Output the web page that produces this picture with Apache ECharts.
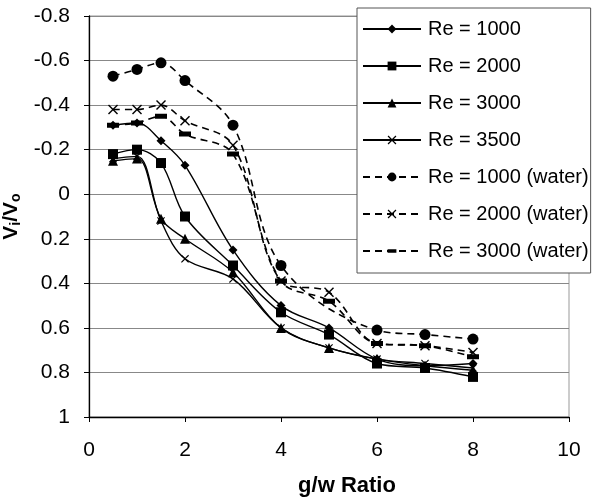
<!DOCTYPE html>
<html>
<head>
<meta charset="utf-8">
<script src="https://cdn.jsdelivr.net/npm/echarts@6/dist/echarts.min.js"></script>
<style>html,body{margin:0;padding:0;background:#fff}#c{width:592px;height:501px}</style>
</head>
<body>
<div id="c"></div>
<script>
var xValues = [0.5, 1, 1.5, 2, 3, 4, 5, 6, 7, 8];
var re1000 = [-0.31, -0.32, -0.24, -0.13, 0.25, 0.50, 0.60, 0.74, 0.77, 0.76];
var re2000 = [-0.18, -0.20, -0.14, 0.10, 0.32, 0.53, 0.63, 0.76, 0.78, 0.82];
var re3000 = [-0.15, -0.16, 0.11, 0.20, 0.35, 0.60, 0.69, 0.74, 0.77, 0.79];
var re3500 = [-0.16, -0.17, 0.12, 0.29, 0.38, 0.60, 0.69, 0.74, 0.76, 0.78];
var water1000 = [-0.53, -0.56, -0.59, -0.51, -0.31, 0.32, null, 0.61, 0.63, 0.65];
var water2000 = [-0.38, -0.38, -0.40, -0.33, -0.22, 0.39, 0.44, 0.67, 0.68, 0.71];
var water3000 = [-0.31, -0.32, -0.35, -0.27, -0.18, 0.39, 0.48, 0.67, 0.68, 0.73];
var seriesNames = ['Re = 1000', 'Re = 2000', 'Re = 3000', 'Re = 3500',
  'Re = 1000 (water)', 'Re = 2000 (water)', 'Re = 3000 (water)'];
var xTicks = [0, 2, 4, 6, 8, 10];
var yTicks = [-0.8, -0.6, -0.4, -0.2, 0, 0.2, 0.4, 0.6, 0.8, 1];

var X_PATH = 'path://M0,1L1,0L5,4L9,0L10,1L6,5L10,9L9,10L5,6L1,10L0,9L4,5Z';
var BAR_PATH = 'path://M0,3.5L12,3.5L12,8.5L0,8.5Z M0,0L0.01,0L0.01,0.01Z M11.99,11.99L12,11.99L12,12Z';
var FONT = '"Liberation Sans", Arial, sans-serif';

function pairs(ys) {
  var out = [];
  for (var i = 0; i < xValues.length; i++) {
    if (ys[i] !== null) out.push([xValues[i], ys[i]]);
  }
  return out;
}

function mk(name, ys, symbol, size, dashed) {
  return {
    name: name, type: 'line', data: pairs(ys), smooth: 0.35,
    symbol: symbol, symbolSize: size, showSymbol: true,
    connectNulls: true,
    lineStyle: { color: '#000', width: dashed ? 1.6 : 1.4, type: dashed ? [7, 5] : 'solid' },
    itemStyle: { color: '#000', borderWidth: 0 },
    emphasis: { disabled: true }, animation: false, z: 3
  };
}

var chart = echarts.init(document.getElementById('c'), null, { renderer: 'canvas' });
chart.setOption({
  animation: false,
  backgroundColor: '#fff',
  textStyle: { fontFamily: FONT },
  grid: { left: 89, right: 23, top: 16, bottom: 84, containLabel: false, outerBoundsMode: 'none',
    show: true, borderColor: '#999', borderWidth: 1 },
  xAxis: {
    type: 'value', min: 0, max: 10, interval: 2,
    name: 'g/w Ratio', nameLocation: 'middle', nameGap: 58,
    nameTextStyle: { fontSize: 22, fontWeight: 'bold', color: '#000', fontFamily: FONT, padding: [0, 0, 0, 36] },
    axisLine: { show: true, onZero: false, lineStyle: { color: '#000', width: 1.3 } },
    axisTick: { show: true, length: 5, inside: false, lineStyle: { color: '#000' } },
    axisLabel: { fontSize: 21, color: '#000', margin: 23, fontFamily: FONT,
      formatter: function (v) { return xTicks.indexOf(v) >= 0 ? String(v) : ''; } },
    splitLine: { show: false }
  },
  yAxis: {
    type: 'value', inverse: true, min: -0.8, max: 1, interval: 0.2,
    name: '{a|V}{s|i}{a|/V}{s|o}', nameLocation: 'middle', nameGap: 61, nameRotate: 90,
    nameTextStyle: {
      fontFamily: FONT, color: '#000',
      rich: {
        a: { fontSize: 21, fontWeight: 'bold', fontFamily: FONT, color: '#000' },
        s: { fontSize: 14, fontWeight: 'bold', fontFamily: FONT, color: '#000', verticalAlign: 'bottom', padding: [9, 0, 0, 0] }
      }
    },
    axisLine: { show: true, onZero: false, lineStyle: { color: '#000', width: 1.3 } },
    axisTick: { show: true, length: 5, inside: false, lineStyle: { color: '#000' } },
    axisLabel: { fontSize: 21, color: '#000', margin: 19, fontFamily: FONT,
      formatter: function (v) {
        var r = Math.round(v * 10) / 10;
        for (var i = 0; i < yTicks.length; i++) if (Math.abs(yTicks[i] - r) < 1e-9) return String(yTicks[i]);
        return '';
      } },
    splitLine: { show: true, lineStyle: { color: '#888', width: 1 } }
  },
  legend: {
    orient: 'vertical', left: 357, top: 8,
    padding: [11, 2, 12, 5],
    itemWidth: 58, itemHeight: 11, itemGap: 17,
    backgroundColor: '#fff', borderColor: '#555', borderWidth: 1,
    textStyle: { fontSize: 20, lineHeight: 20, color: '#000', fontFamily: FONT, padding: [0, 0, 0, 2] },
    data: seriesNames,
    z: 10
  },
  series: [
    mk(seriesNames[0], re1000, 'diamond', 9, false),
    mk(seriesNames[1], re2000, 'rect', 10, false),
    mk(seriesNames[2], re3000, 'triangle', 10, false),
    mk(seriesNames[3], re3500, X_PATH, 8, false),
    mk(seriesNames[4], water1000, 'circle', 11, true),
    mk(seriesNames[5], water2000, X_PATH, 10, true),
    mk(seriesNames[6], water3000, BAR_PATH, 12, true)
  ]
});
</script>
</body>
</html>
